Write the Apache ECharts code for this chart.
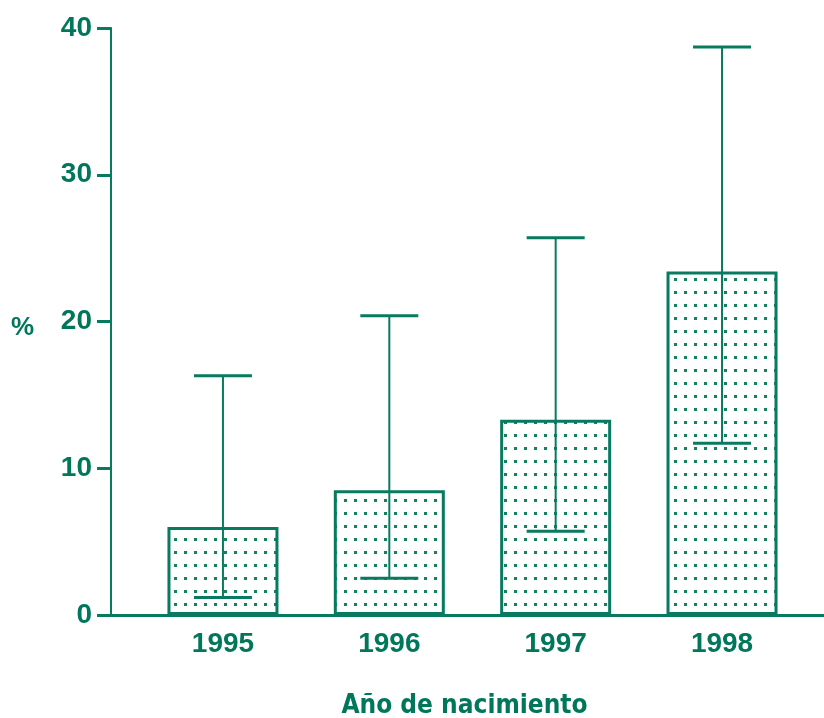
<!DOCTYPE html>
<html>
<head>
<meta charset="utf-8">
<script src="https://cdn.jsdelivr.net/npm/echarts@6/dist/echarts.min.js"></script>
<style>
  html, body { margin: 0; padding: 0; background: #ffffff; }
  #chart { width: 824px; height: 718px; }
</style>
</head>
<body>
<div id="chart"></div>
<script>
// Birth-year prevalence (%) with 95% confidence intervals
const years = [1995, 1996, 1997, 1998];
const percent = [6.0, 8.5, 13.3, 23.4];
const ciLower = [1.2, 2.5, 5.7, 11.7];
const ciUpper = [16.3, 20.4, 25.7, 38.7];
const yTicks = [0, 10, 20, 30, 40];

const GREEN = '#087a60';
const TEXT = '#00775b';

// Dotted fill used inside the bars
function dotPattern() {
  const c = document.createElement('canvas');
  c.width = 10;
  c.height = 13;
  const ctx = c.getContext('2d');
  ctx.fillStyle = '#ffffff';
  ctx.fillRect(0, 0, c.width, c.height);
  ctx.fillStyle = '#17805f';
  ctx.fillRect(4, 5, 3, 3);
  return c;
}

const chart = echarts.init(document.getElementById('chart'), null, { renderer: 'canvas' });

const barData = years.map((y, i) => [y, percent[i]]);
const ciData = years.map((y, i) => [y, ciLower[i], ciUpper[i]]);

chart.setOption({
  animation: false,
  backgroundColor: '#ffffff',
  grid: {
    left: 111, width: 713, top: 28, height: 587,
    containLabel: false,
    outerBoundsMode: 'none'
  },
  xAxis: {
    type: 'value',
    min: 1994.327,
    max: 1998.613,
    splitLine: { show: false },
    axisLine: { show: true, onZero: false, lineStyle: { color: GREEN, width: 3 } },
    axisTick: { show: false },
    axisLabel: {
      customValues: years,
      margin: 15,
      color: TEXT,
      fontFamily: 'Liberation Sans',
      fontWeight: 'bold',
      fontSize: 28,
      formatter: v => String(Math.round(v))
    },
    name: 'Año de nacimiento',
    nameLocation: 'middle',
    nameGap: 78,
    nameTextStyle: {
      color: TEXT,
      fontFamily: "'DejaVu Sans Condensed', 'Liberation Sans Narrow', 'Liberation Sans'",
      fontWeight: 'bold',
      fontSize: 26,
      padding: [0, 6, 0, 0]
    }
  },
  yAxis: {
    type: 'value',
    min: 0,
    max: 40,
    interval: 10,
    splitLine: { show: false },
    axisLine: { show: true, lineStyle: { color: GREEN, width: 2 } },
    axisTick: { show: true, length: 14, lineStyle: { color: GREEN, width: 3 } },
    axisLabel: {
      customValues: yTicks,
      margin: 19,
      color: TEXT,
      fontFamily: 'Liberation Sans',
      fontWeight: 'bold',
      fontSize: 28
    },
    name: '%',
    nameLocation: 'middle',
    nameRotate: 0,
    nameGap: 77,
    nameTextStyle: {
      color: TEXT,
      fontFamily: 'Liberation Sans',
      fontWeight: 'bold',
      fontSize: 26,
      verticalAlign: 'top',
      lineHeight: 12
    }
  },
  series: [
    {
      type: 'bar',
      data: barData,
      barWidth: 111,
      itemStyle: {
        color: { image: dotPattern(), repeat: 'repeat' },
        borderColor: GREEN,
        borderWidth: 3
      },
      z: 2
    },
    {
      type: 'custom',
      data: ciData,
      z: 3,
      renderItem: function (params, api) {
        const x = api.value(0);
        const lo = api.coord([x, api.value(1)]);
        const hi = api.coord([x, api.value(2)]);
        const half = 29;
        return {
          type: 'group',
          children: [
            {
              type: 'line',
              shape: { x1: lo[0], y1: lo[1], x2: hi[0], y2: hi[1] },
              style: { stroke: GREEN, lineWidth: 2 }
            },
            {
              type: 'line',
              shape: { x1: lo[0] - half, y1: lo[1], x2: lo[0] + half, y2: lo[1] },
              style: { stroke: GREEN, lineWidth: 3 }
            },
            {
              type: 'line',
              shape: { x1: hi[0] - half, y1: hi[1], x2: hi[0] + half, y2: hi[1] },
              style: { stroke: GREEN, lineWidth: 3 }
            }
          ]
        };
      }
    }
  ]
});
</script>
</body>
</html>
